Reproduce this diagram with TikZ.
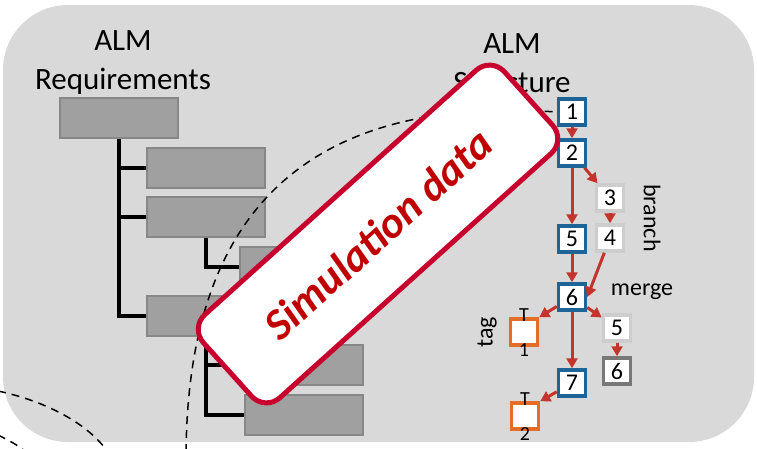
\documentclass[tikz,border=0pt]{standalone}
\usepackage{fontspec}
\setmainfont{Carlito}
\usetikzlibrary{arrows.meta}
\definecolor{bggray}{RGB}{217,217,217}
\definecolor{boxgray}{RGB}{160,160,160}
\definecolor{boxedge}{RGB}{135,135,135}
\definecolor{nodeblue}{RGB}{30,100,150}
\definecolor{arrred}{RGB}{196,52,45}
\definecolor{lightedge}{RGB}{205,205,205}
\definecolor{darkedge}{RGB}{120,120,120}
\definecolor{tagorange}{RGB}{228,110,40}
\definecolor{badgeedge}{RGB}{200,0,46}
\definecolor{badgetext}{RGB}{192,0,0}
\tikzset{
  reqbox/.style={draw=boxedge, line width=1.5pt, fill=boxgray, minimum width=118pt, minimum height=40pt, inner sep=0pt},
  treeline/.style={line width=3.5pt, black},
  commit/.style={draw=nodeblue, line width=3.5pt, fill=white, minimum width=27pt, minimum height=26pt, inner sep=0pt, font=\fontsize{24}{24}\selectfont},
  lightcommit/.style={commit, draw=lightedge},
  darkcommit/.style={commit, draw=darkedge},
  tagbox/.style={commit, draw=tagorange},
  flow/.style={draw=arrred, line width=3pt, -{Triangle[length=10pt,width=11pt]}},
  dashcurve/.style={black, line width=1.5pt, dash pattern=on 8pt off 6pt},
  title/.style={font=\fontsize{31}{39}\selectfont, align=center},
  small/.style={font=\fontsize{24}{24}\selectfont},
  tagtext/.style={font=\fontsize{20}{20}\selectfont, inner sep=0pt},
}
\begin{document}
\begin{tikzpicture}[x=1pt,y=-1pt]
\useasboundingbox (0,0) rectangle (757,448);
\fill[bggray, rounded corners=65pt] (3,5) rectangle (754,442);

% titles
\node[title] (t1) at (123,63) {ALM\\Requirements};
\node[title] (t2) at (512,63) {ALM\\Structure};

% requirement tree
\node[reqbox] (A) at (119,118) {};
\node[reqbox] (B) at (206,168) {};
\node[reqbox] (C) at (206,217) {};
\node[reqbox] (D) at (299,267) {};
\node[reqbox] (E) at (206,316) {};
\node[reqbox] (F) at (304,365) {};
\node[reqbox] (G) at (304,415) {};
\coordinate (ab) at (119,168);
\coordinate (ac) at (119,217);
\coordinate (ae) at (119,316);
\coordinate (cd) at (206,267);
\coordinate (ef) at (206,365);
\coordinate (eg) at (206,415);
\draw[treeline] (A.south) -- (ae) -- (E.west);
\draw[treeline] (ab) -- (B.west);
\draw[treeline] (ac) -- (C.west);
\draw[treeline] (C.south) -- (cd) -- (D.west);
\draw[treeline] (E.south) -- (eg) -- (G.west);
\draw[treeline] (ef) -- (F.west);

% commit graph
\node[commit] (n1) at (572,112) {1};
\node[commit] (n2) at (572,153) {2};
\node[lightcommit] (n3) at (610,198) {3};
\node[lightcommit] (n4) at (610,238) {4};
\node[commit] (n5) at (572,239) {5};
\node[commit] (n6) at (572,297) {6};
\node[tagbox] (tg1) at (524,332) {};
\node[lightcommit] (m5) at (617,328) {5};
\node[darkcommit] (m6) at (617,371) {6};
\node[commit] (n7) at (572,383) {7};
\node[tagbox] (tg2) at (525,416) {};
\node[tagtext] (tg1t) at ([yshift=2pt]tg1.north) {T};
\node[tagtext] (tg1n) at ([yshift=-3pt]tg1.south) {1};
\node[tagtext] (tg2t) at ([yshift=2pt]tg2.north) {T};
\node[tagtext] (tg2n) at ([yshift=-3pt]tg2.south) {2};

\draw[flow] (n1) -- (n2);
\draw[flow] (n2) -- (n3);
\draw[flow] (n2) -- (n5);
\draw[flow] (n3) -- (n4);
\draw[flow] (n5) -- (n6);
\draw[flow] (n4) -- (n6.east);
\draw[flow] (n6) -- (tg1.north east);
\draw[flow] (n6) -- (n7);
\draw[flow] (n6) -- (m5);
\draw[flow] (m5) -- (m6);
\draw[flow] (n7) -- (tg2.north east);

\node[small, rotate=-90] (br) at (652,218) {branch};
\node[small] (mg) at (642,292) {merge};
\node[small, rotate=90] (tg) at (487,332) {tag};

% dashed curves
\coordinate (d0) at (186,452);
\draw[dashcurve] (d0) .. controls (188,290) and (240,90) .. (n1.west);
\coordinate (e0) at (-2,391);
\coordinate (e1) at (108,452);
\draw[dashcurve] (e0) .. controls (40,400) and (85,420) .. (e1);
\coordinate (f0) at (-2,435);
\coordinate (f1) at (26,452);
\draw[dashcurve] (f0) .. controls (8,440) and (18,445) .. (f1);

% badge
\node[draw=badgeedge, line width=5pt, fill=white, rounded corners=20pt,
      minimum width=405pt, minimum height=112pt, rotate=42,
      text=badgetext, font=\fontsize{44}{44}\selectfont\bfseries\itshape]
      (badge) at (378,234) {Simulation data};
\end{tikzpicture}
\end{document}
